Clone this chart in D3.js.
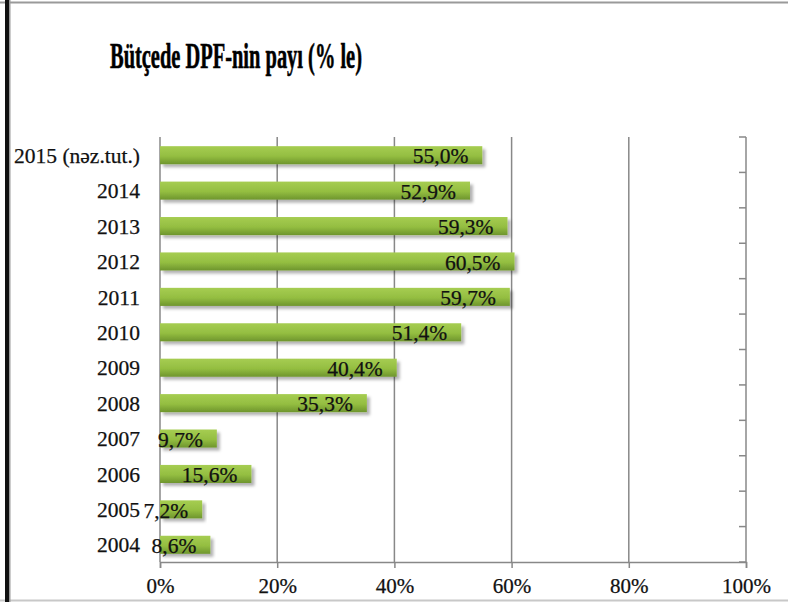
<!DOCTYPE html>
<html>
<head>
<meta charset="utf-8">
<script src="https://cdn.jsdelivr.net/npm/d3@7"></script>
<style>
  body { margin: 0; background: #fff; }
  svg text { font-family: "Liberation Serif", "Times New Roman", serif; fill: #111; stroke: #111; stroke-width: 0.25px; }
</style>
</head>
<body>
<div id="chart"></div>
<script>
// categories top to bottom, values in %
var years = ['2015 (nəz.tut.)', '2014', '2013', '2012', '2011', '2010', '2009', '2008', '2007', '2006', '2005', '2004'];
var shares = [55.0, 52.9, 59.3, 60.5, 59.7, 51.4, 40.4, 35.3, 9.7, 15.6, 7.2, 8.6];
var labels = ['55,0%', '52,9%', '59,3%', '60,5%', '59,7%', '51,4%', '40,4%', '35,3%', '9,7%', '15,6%', '7,2%', '8,6%'];
var xTicks = [0, 20, 40, 60, 80, 100];
var title = 'Bütçede DPF-nin payı (% le)';

var W = 788, H = 602;
var margin = { top: 137, right: 42, bottom: 40, left: 160 };
var width = W - margin.left - margin.right,
    height = H - margin.top - margin.bottom;

var svg = d3.select('#chart').append('svg')
  .attr('width', W)
  .attr('height', H);

var defs = svg.append('defs');
var grad = defs.append('linearGradient')
  .attr('id', 'barGrad')
  .attr('x1', 0).attr('y1', 0).attr('x2', 0).attr('y2', 1);
grad.append('stop').attr('offset', '0%').attr('stop-color', '#a6cd52');
grad.append('stop').attr('offset', '55%').attr('stop-color', '#94be41');
grad.append('stop').attr('offset', '100%').attr('stop-color', '#6e952d');

var shadow = defs.append('filter').attr('id', 'shadow')
  .attr('x', '-5%').attr('y', '-20%').attr('width', '115%').attr('height', '160%');
shadow.append('feDropShadow')
  .attr('dx', 3).attr('dy', 3).attr('stdDeviation', 1.5)
  .attr('flood-color', '#000').attr('flood-opacity', 0.3);

// picture frame
svg.append('line').attr('x1', 0).attr('x2', W).attr('y1', 2.5).attr('y2', 2.5)
  .attr('stroke', '#9a9a9a').attr('stroke-width', 2);
svg.append('line').attr('x1', 0).attr('x2', W).attr('y1', 600.5).attr('y2', 600.5)
  .attr('stroke', '#c8c8c8').attr('stroke-width', 2);
svg.append('rect').attr('x', 5).attr('y', 0).attr('width', 4).attr('height', H).attr('fill', '#111');
svg.append('rect').attr('x', 9).attr('y', 0).attr('width', 1.5).attr('height', H).attr('fill', '#999');

svg.append('text')
  .attr('x', 110)
  .attr('y', 68)
  .attr('textLength', 252)
  .attr('lengthAdjust', 'spacingAndGlyphs')
  .style('font-size', '35px')
  .style('font-weight', 'bold')
  .style('fill', '#000')
  .style('stroke', '#000')
  .style('stroke-width', '0.6px')
  .text(title);

var g = svg.append('g')
  .attr('transform', 'translate(' + margin.left + ',' + margin.top + ')');

var x = d3.scaleLinear().domain([0, 100]).range([0, width]);
var y = d3.scaleBand().domain(years).range([0, height]).paddingInner(0.49).paddingOuter(0.245);

// gridlines
g.selectAll('line.grid')
  .data(xTicks)
  .enter().append('line')
  .attr('class', 'grid')
  .attr('x1', function(d) { return x(d); })
  .attr('x2', function(d) { return x(d); })
  .attr('y1', 0)
  .attr('y2', height)
  .attr('stroke', '#888')
  .attr('stroke-width', 1.5);

// bottom axis
var xAxis = d3.axisBottom(x)
  .tickValues(xTicks)
  .tickSize(6)
  .tickPadding(10)
  .tickFormat(function(d) { return d + '%'; });

var gx = g.append('g')
  .attr('transform', 'translate(0,' + height + ')')
  .call(xAxis);
gx.select('.domain').attr('stroke', '#888').attr('stroke-width', 1.5);
gx.selectAll('.tick line').attr('stroke', '#888').attr('stroke-width', 1.5);
gx.selectAll('.tick text')
  .style('font-size', '21px')
  .style('font-family', '"Liberation Serif", serif')
  .attr('fill', '#111');

// right side category ticks
var step = y.step();
var bounds = d3.range(years.length + 1).map(function(i) { return i * step; });
g.selectAll('line.rtick')
  .data(bounds)
  .enter().append('line')
  .attr('class', 'rtick')
  .attr('x1', width - 7)
  .attr('x2', width)
  .attr('y1', function(d) { return d; })
  .attr('y2', function(d) { return d; })
  .attr('stroke', '#888')
  .attr('stroke-width', 1.5);

// category labels
g.selectAll('text.cat')
  .data(years)
  .enter().append('text')
  .attr('class', 'cat')
  .attr('x', -20)
  .attr('y', function(d) { return y(d) + y.bandwidth() / 2; })
  .attr('dy', '0.38em')
  .attr('text-anchor', 'end')
  .style('font-size', '21.5px')
  .text(function(d) { return d; });

// bars
g.selectAll('rect.bar')
  .data(shares)
  .enter().append('rect')
  .attr('class', 'bar')
  .attr('x', x(0))
  .attr('y', function(d, i) { return y(years[i]) + 0.5; })
  .attr('width', function(d) { return x(d) - x(0); })
  .attr('height', y.bandwidth())
  .attr('fill', 'url(#barGrad)')
  .attr('filter', 'url(#shadow)');

// value labels
g.selectAll('text.val')
  .data(shares)
  .enter().append('text')
  .attr('class', 'val')
  .attr('x', function(d) { return x(d) - 14; })
  .attr('y', function(d, i) { return y(years[i]) + y.bandwidth() / 2 + 0.5; })
  .attr('dy', '0.38em')
  .attr('text-anchor', 'end')
  .style('font-size', '21.5px')
  .text(function(d, i) { return labels[i]; });
</script>
</body>
</html>
